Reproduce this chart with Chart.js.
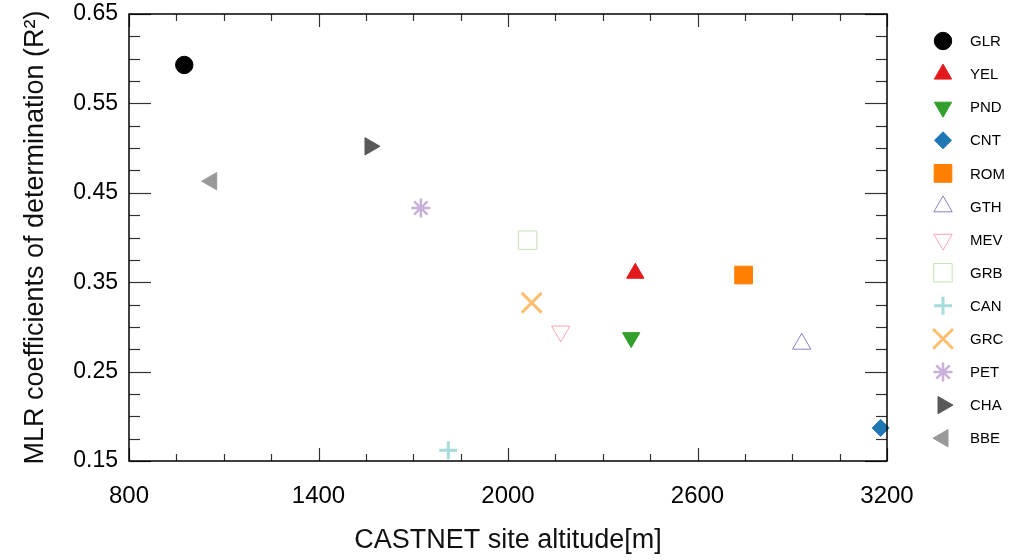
<!DOCTYPE html>
<html>
<head>
<meta charset="utf-8">
<script src="https://cdn.jsdelivr.net/npm/chart.js@4.4.1/dist/chart.umd.min.js"></script>
<style>
  html, body { margin: 0; padding: 0; background: #fff; }
</style>
</head>
<body>
<canvas id="chart" width="1011" height="560"></canvas>
<script>
// ── data ─────────────────────────────────────────────────
const sites     = ["GLR", "YEL", "PND", "CNT", "ROM", "GTH", "MEV", "GRB", "CAN", "GRC", "PET", "CHA", "BBE"];
const altitudes = [975, 2403, 2390, 3180, 2746, 2930, 2167, 2062, 1811, 2075, 1724, 1563, 1062];
const r2Values  = [0.593, 0.360, 0.288, 0.187, 0.358, 0.281, 0.295, 0.397, 0.162, 0.327, 0.433, 0.502, 0.463];

const xTickLabels = [800, 1400, 2000, 2600, 3200];
const yTickLabels = [0.15, 0.25, 0.35, 0.45, 0.55, 0.65];

// ── marker styles (one per site) ─────────────────────────
const markerColors = ["#000000", "#e31a1c", "#33a02c", "#1f78b4", "#ff7f00", "#8c7fc0",
                      "#f7a6b4", "#c4e4b6", "#a6dcdc", "#fdbe6f", "#c8b0d8", "#595959", "#999999"];
const markerShapes = ["circle", "triangle", "triangle", "rectRot", "rect", "triangle",
                      "triangle", "rect", "cross", "crossRot", "star", "triangle", "triangle"];
const markerRotate = [0, 0, 180, 0, 0, 0, 180, 0, 0, 0, 0, 90, 270];
const markerSize   = [8.7, 10, 10, 8.5, 12.5, 10.6, 10.6, 13, 9, 14, 9.5, 10, 10];
const markerHollow = [false, false, false, false, false, true, true, true, false, false, false, false, false];
const markerLine   = [1, 1, 1, 1, 1, 1, 1, 1, 3, 3, 2.5, 1, 1];

const FONT = "'Liberation Sans', Arial, sans-serif";
const near = (list, v) => list.some(t => Math.abs(t - v) < 1e-6);

// inward tick marks on all four sides + frame (IDL style box)
const boxTicks = {
  id: "boxTicks",
  afterDraw(chart) {
    const { ctx, chartArea: a, scales: { x, y } } = chart;
    ctx.save();
    ctx.strokeStyle = "#333";
    ctx.lineWidth = 1.2;
    const seg = (x1, y1, x2, y2) => { ctx.beginPath(); ctx.moveTo(x1, y1); ctx.lineTo(x2, y2); ctx.stroke(); };
    x.ticks.forEach(t => {
      const px = Math.round(x.getPixelForValue(t.value)) + 0.5;
      const len = near(xTickLabels, t.value) ? 13 : 7;
      seg(px, a.bottom, px, a.bottom - len);
      seg(px, a.top, px, a.top + len);
    });
    y.ticks.forEach(t => {
      const py = Math.round(y.getPixelForValue(t.value)) + 0.5;
      const len = near(yTickLabels, t.value) ? 22 : 11;
      seg(a.left, py, a.left + len, py);
      seg(a.right, py, a.right - len, py);
    });
    ctx.strokeStyle = "#000";
    ctx.lineWidth = 1.5;
    ctx.strokeRect(a.left, a.top, a.right - a.left, a.bottom - a.top);
    ctx.restore();
  }
};

// legend column on the right
const siteLegend = {
  id: "siteLegend",
  afterDraw(chart) {
    const { ctx } = chart;
    const markX = 943, textX = 970, top = 41, step = 33.1;
    ctx.save();
    chart.data.datasets.forEach((ds, i) => {
      const cy = top + i * step;
      ctx.fillStyle = ds.pointBackgroundColor;
      ctx.strokeStyle = ds.pointBorderColor;
      ctx.lineWidth = ds.pointBorderWidth;
      Chart.helpers.drawPoint(ctx, {
        pointStyle: ds.pointStyle, rotation: ds.pointRotation,
        radius: ds.pointRadius, borderWidth: ds.pointBorderWidth
      }, markX, cy);
      ctx.fillStyle = "#000";
      ctx.font = "15px " + FONT;
      ctx.textBaseline = "middle";
      ctx.textAlign = "left";
      ctx.fillText(ds.label, textX, cy + 1);
    });
    ctx.restore();
  }
};

new Chart(document.getElementById("chart"), {
  type: "scatter",
  data: {
    datasets: sites.map((s, i) => ({
      label: s,
      data: [{ x: altitudes[i], y: r2Values[i] }],
      pointStyle: markerShapes[i],
      pointRotation: markerRotate[i],
      pointRadius: markerSize[i],
      pointHoverRadius: markerSize[i],
      pointBackgroundColor: markerHollow[i] ? "rgba(0,0,0,0)" : markerColors[i],
      pointBorderColor: markerColors[i],
      pointBorderWidth: markerLine[i],
      clip: false
    }))
  },
  options: {
    responsive: false,
    animation: false,
    layout: { autoPadding: false, padding: { top: 14, right: 124, bottom: 0, left: 0 } },
    plugins: {
      legend: { display: false },
      tooltip: { enabled: false }
    },
    scales: {
      x: {
        type: "linear",
        min: 800, max: 3200,
        grid: { display: false, drawTicks: false },
        border: { display: false },
        ticks: {
          stepSize: 150, autoSkip: false, maxRotation: 0, maxTicksLimit: 100,
          padding: 21, color: "#000",
          font: { size: 24, family: FONT },
          callback: v => near(xTickLabels, v) ? String(v) : ""
        },
        title: {
          display: true, text: "CASTNET site altitude[m]", color: "#111",
          font: { size: 27, family: FONT, lineHeight: 1.2 },
          padding: { top: 0, bottom: 3 }
        },
        afterFit: s => { s.height = 99; s.paddingLeft = 0; s.paddingRight = 0; }
      },
      y: {
        min: 0.15, max: 0.65,
        grid: { display: false, drawTicks: false },
        border: { display: false },
        ticks: {
          stepSize: 0.025, autoSkip: false, maxTicksLimit: 100,
          padding: 11, color: "#000",
          font: { size: 23, family: FONT },
          callback: v => near(yTickLabels, v) ? v.toFixed(2) : ""
        },
        title: {
          display: true, text: "MLR coefficients of determination (R²)", color: "#111",
          font: { size: 27, family: FONT, lineHeight: 1.2 },
          padding: { top: 19, bottom: 0 }
        },
        afterFit: s => { s.width = 129; s.paddingTop = 0; s.paddingBottom = 0; }
      }
    }
  },
  plugins: [boxTicks, siteLegend]
});
</script>
</body>
</html>
